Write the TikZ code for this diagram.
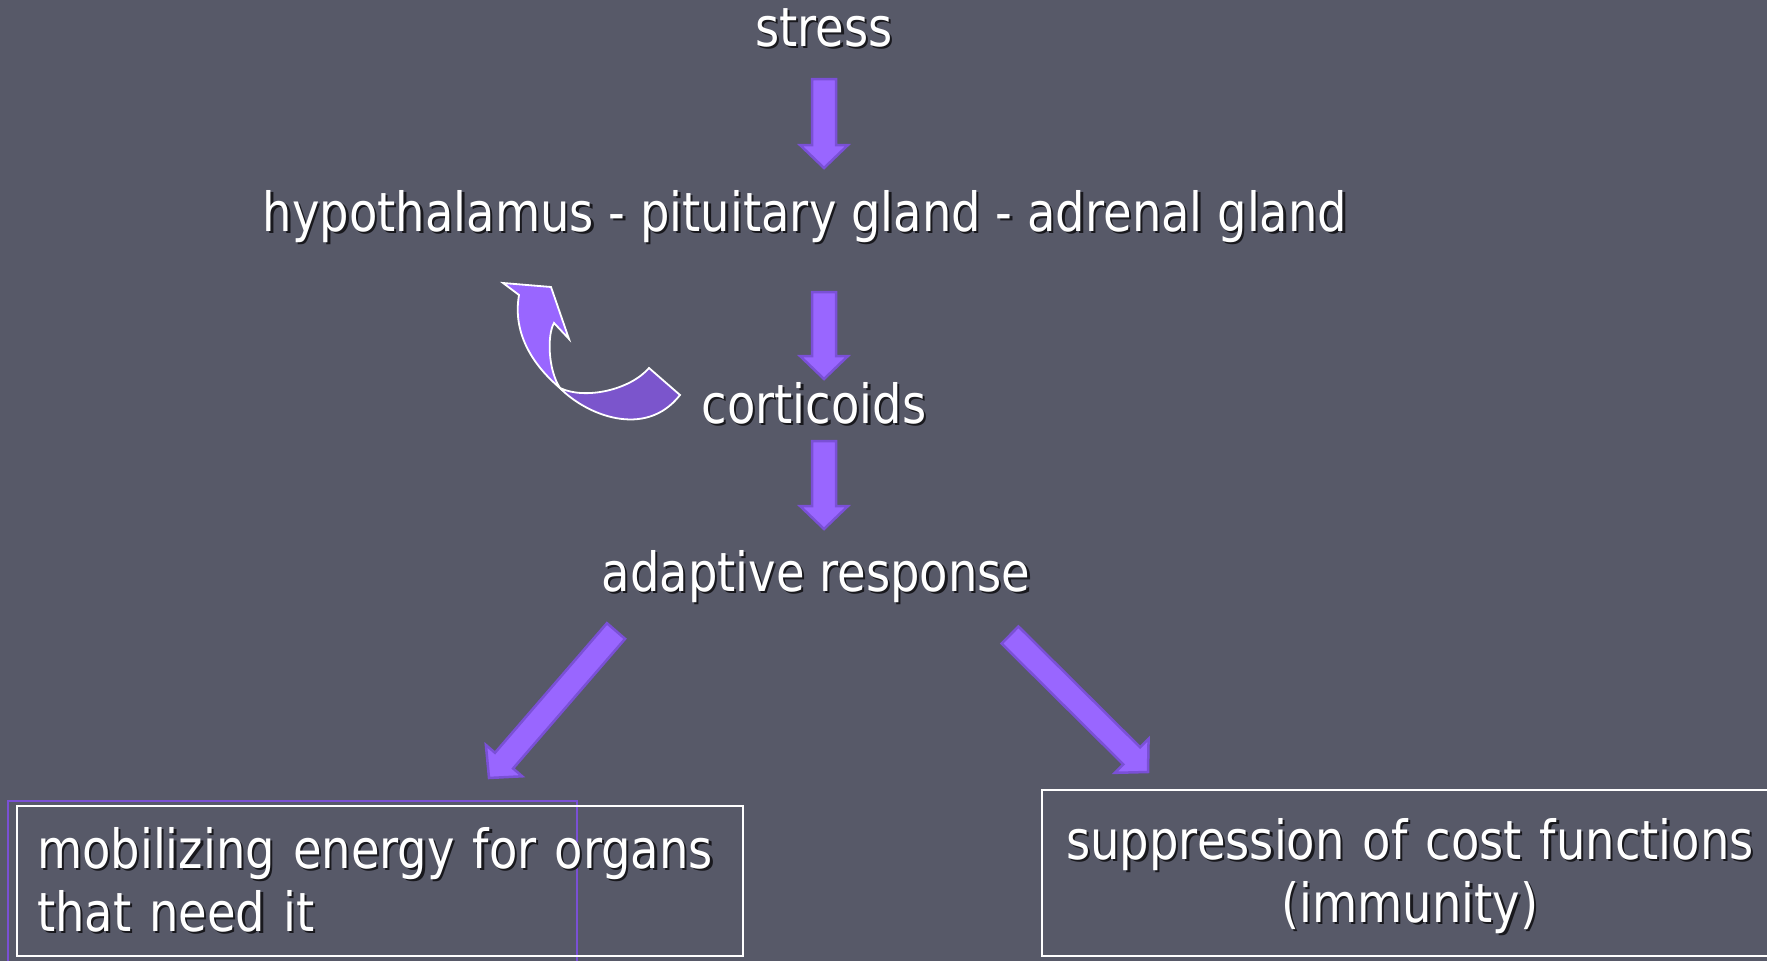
\documentclass[tikz,border=0pt]{standalone}
\usepackage{fontspec}
\setmainfont{DejaVu Sans}[FakeStretch=0.86]
\usetikzlibrary{calc}
\definecolor{bgc}{RGB}{87,89,104}
\definecolor{afill}{RGB}{153,102,255}
\definecolor{aedge}{RGB}{122,80,214}
\definecolor{adark}{RGB}{123,85,204}
\definecolor{shc}{RGB}{25,25,30}
\newcommand\shd[1]{\leavevmode\rlap{\kern2.2pt\raisebox{-2.2pt}{\textcolor{shc}{#1}}}#1}
\tikzset{
  lbl/.style={anchor=base, text=white, font=\fontsize{54}{63}\selectfont, inner sep=0pt},
  boxnode/.style={draw=white, line width=2pt, text=white, font=\fontsize{54}{63}\selectfont, inner ysep=0pt, inner xsep=20pt},
  blockarrow/.style={draw=aedge, fill=afill, line width=2.5pt, line join=miter,
    to path={
      ($(\tikztostart)!12pt!90:(\tikztotarget)$)
      -- ($($(\tikztotarget)!23pt!(\tikztostart)$)!12pt!90:(\tikztotarget)$)
      -- ($($(\tikztotarget)!23pt!(\tikztostart)$)!24pt!90:(\tikztotarget)$)
      -- (\tikztotarget)
      -- ($($(\tikztotarget)!23pt!(\tikztostart)$)!24pt!-90:(\tikztotarget)$)
      -- ($($(\tikztotarget)!23pt!(\tikztostart)$)!12pt!-90:(\tikztotarget)$)
      -- ($(\tikztostart)!12pt!-90:(\tikztotarget)$)
      -- cycle}},
  ribbon/.style={draw=white, line width=1.8pt, line join=miter}
}
\begin{document}
\begin{tikzpicture}[x=1pt,y=1pt]
\fill[bgc] (0,0) rectangle (1767,-961);
\useasboundingbox (0,0) rectangle (1767,-961);

% texts
\node[lbl] (stress) at (824,-46) {\shd{stress}};
\node[lbl] (hpa) at (805,-231) {\shd{hypothalamus - pituitary gland - adrenal gland}};
\node[lbl] (cort) at (814,-423) {\shd{corticoids}};
\node[lbl] (adapt) at (816,-591) {\shd{adaptive response}};

% boxes
\draw[aedge, line width=1.5pt] (8,-801) rectangle (577,-975);
\node[boxnode, anchor=north west, text width=686pt, align=left, minimum width=726pt, minimum height=150pt] (mob) at (16,-805)
  {\shd{mobilizing energy for organs}\\\shd{that need it}};
\node[boxnode, anchor=north west, text width=696pt, align=center, minimum width=736pt, minimum height=166pt] (supp) at (1041,-789)
  {\rule{0pt}{50pt}\shd{suppression of cost functions}\\\shd{(immunity)}};

% arrow end points
\coordinate (a1s) at (824,-79);  \coordinate (a1e) at (824,-168);
\coordinate (a2s) at (824,-292); \coordinate (a2e) at (824,-379);
\coordinate (a3s) at (824,-441); \coordinate (a3e) at (824,-529);
\coordinate (a4s) at (616,-631); \coordinate (a4e) at (489,-778);
\coordinate (a5s) at (1010,-635); \coordinate (a5e) at (1148,-772);

\draw[blockarrow] (a1s) to (a1e);
\draw[blockarrow] (a2s) to (a2e);
\draw[blockarrow] (a3s) to (a3e);
\draw[blockarrow] (a4s) to (a4e);
\draw[blockarrow] (a5s) to (a5e);

% curved feedback arrow
\coordinate (X) at (560,-388);
\filldraw[ribbon, fill=adark] (X) .. controls (585,-414) and (645,-440) .. (680,-395)
  -- (649,-368) .. controls (630,-390) and (585,-400) .. (X) -- cycle;
\filldraw[ribbon, fill=afill] (X) .. controls (535,-367) and (512,-335) .. (519,-295)
  -- (503,-283) -- (551,-287) -- (569,-339) -- (554,-323)
  .. controls (547,-335) and (548,-370) .. (X) -- cycle;
\end{tikzpicture}
\end{document}
